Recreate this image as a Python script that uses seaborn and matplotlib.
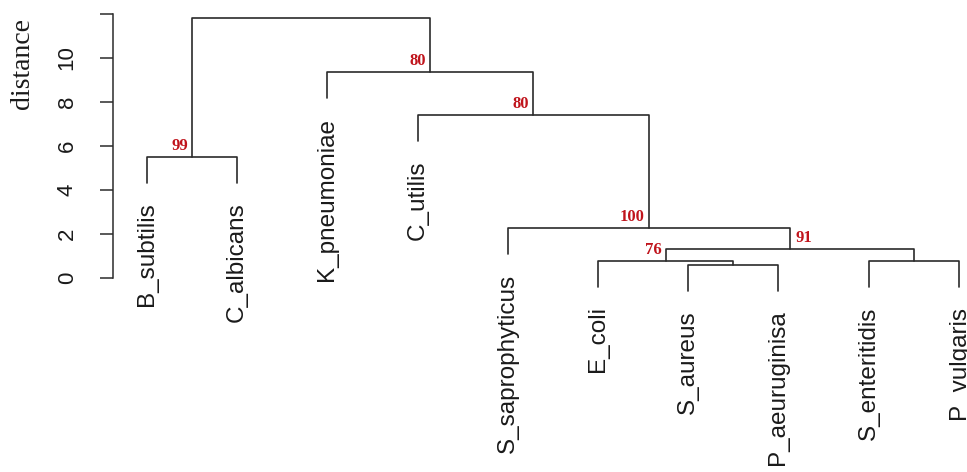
import pandas as pd
import matplotlib
matplotlib.use("Agg")
import matplotlib.pyplot as plt
import seaborn as sns

# leaves in plotting order
leaves = ["B_subtilis", "C_albicans", "K_pneumoniae", "C_utilis",
          "S_saprophyticus", "E_coli", "S_aureus", "P_aeuruginisa",
          "S_enteritidis", "P_vulgaris"]

# merges (hclust style: negative = leaf index, positive = earlier merge)
merge_left = [-7, -6, -9, 2, -5, -1, -4, -3, 6]
merge_right = [-8, 1, -10, 3, 4, -2, 5, 7, 8]
merge_height = [0.62, 0.79, 0.79, 1.33, 2.27, 5.51, 7.41, 9.36, 11.82]
bootstrap = [None, "76", None, "91", "100", "99", "80", "80", None]
boot_side = [None, "left", None, "right", "left", "left", "left", "left", None]

y_ticks = [0, 2, 4, 6, 8, 10, 12]
y_tick_labels = ["0", "2", "4", "6", "8", "10", ""]

sns.set_style("ticks")
plt.rcParams['font.family'] = ['Liberation Sans', 'DejaVu Sans']

hang = 0.1 * max(merge_height)

# work out x position and top of each node
leaf_x = {i + 1: i + 1 for i in range(len(leaves))}
node_x = {}
node_top = {}


def child_pos(c, h):
    if c < 0:
        return leaf_x[-c], h - hang
    return node_x[c], merge_height[c - 1]


rows = []
for k in range(len(merge_height)):
    h = merge_height[k]
    xl, yl = child_pos(merge_left[k], h)
    xr, yr = child_pos(merge_right[k], h)
    node_x[k + 1] = (xl + xr) / 2
    for order, (x, y) in enumerate([(xl, yl), (xl, h), (xr, h), (xr, yr)]):
        rows.append({"seg": k, "order": order, "x": x, "y": y})
segs = pd.DataFrame(rows)

fig = plt.figure(figsize=(9.67, 4.72), dpi=100)
ax = fig.add_axes([0.1169, 0.3638, 0.8831, 0.6254])

sns.lineplot(data=segs, x="x", y="y", units="seg", estimator=None, sort=False,
             color="#2b2b2b", linewidth=1.2, ax=ax, legend=False)

# leaf labels hanging below leaf ends
leaf_end = {}
for k in range(len(merge_height)):
    for c in (merge_left[k], merge_right[k]):
        if c < 0:
            leaf_end[-c] = merge_height[k] - hang
for i, name in enumerate(leaves):
    ax.annotate(name, (leaf_x[i + 1], leaf_end[i + 1]), xytext=(0, -14),
                textcoords="offset points", rotation=90, ha="center", va="top",
                fontsize=17.5, color="#1a1a1a", annotation_clip=False)

# bootstrap values
for k, b in enumerate(bootstrap):
    if b is None:
        continue
    if boot_side[k] == "left":
        ax.annotate(b, (node_x[k + 1], merge_height[k]), xytext=(-3, 2),
                    textcoords="offset points", ha="right", va="bottom",
                    fontsize=12, fontweight="bold", color="#c0141c",
                    family=["Liberation Serif"])
    else:
        ax.annotate(b, (node_x[k + 1], merge_height[k]), xytext=(4, 2),
                    textcoords="offset points", ha="left", va="bottom",
                    fontsize=12, fontweight="bold", color="#c0141c",
                    family=["Liberation Serif"])

ax.set_xlim(0.623, 10.091)
ax.set_ylim(-1, 12.4)
ax.set_yticks(y_ticks)
ax.set_yticklabels(y_tick_labels, rotation=90, va="center", fontsize=16,
                   color="#1a1a1a")
ax.tick_params(axis="y", length=9.5, width=1.1, pad=16, color="#2b2b2b")
ax.set_xticks([])
ax.set_xlabel("")
ax.set_ylabel("")
for s in ["top", "right", "bottom"]:
    ax.spines[s].set_visible(False)
ax.spines["left"].set_bounds(0, 12)
ax.spines["left"].set_linewidth(1.1)
ax.spines["left"].set_color("#2b2b2b")

fig.text(0.0228, 0.8665, "distance", rotation=90, ha="center", va="center",
         fontsize=20, family=["Liberation Serif"], color="#1a1a1a")

fig.savefig("out.png", dpi=100)
